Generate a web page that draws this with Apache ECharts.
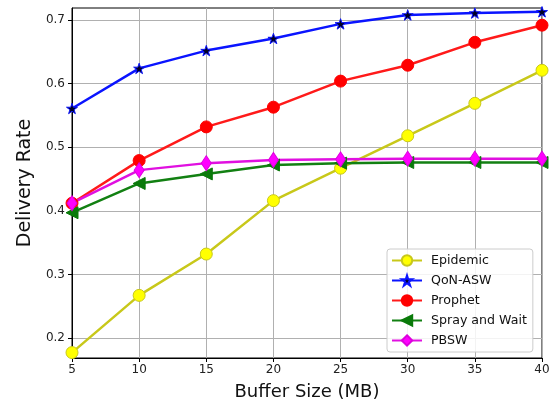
<!DOCTYPE html>
<html>
<head>
<meta charset="utf-8">
<script src="https://cdn.jsdelivr.net/npm/echarts@6/dist/echarts.min.js"></script>
<style>
  html, body { margin: 0; padding: 0; background: #fff; }
  #chart { width: 556px; height: 407px; }
</style>
</head>
<body>
<div id="chart"></div>
<script>
// Buffer sizes (MB) on the x axis
const bufferSizes = [5, 10, 15, 20, 25, 30, 35, 40];
const xTicks = [5, 10, 15, 20, 25, 30, 35, 40];
const yTicks = [0.2, 0.3, 0.4, 0.5, 0.6, 0.7];

// Delivery rate per routing protocol
const epidemic    = [0.177, 0.267, 0.332, 0.416, 0.467, 0.518, 0.569, 0.621];
const qonAsw      = [0.561, 0.624, 0.652, 0.671, 0.694, 0.708, 0.711, 0.713];
const prophet     = [0.412, 0.479, 0.532, 0.563, 0.604, 0.629, 0.665, 0.692];
const sprayWait   = [0.397, 0.443, 0.458, 0.472, 0.475, 0.476, 0.476, 0.476];
const pbsw        = [0.412, 0.464, 0.475, 0.480, 0.481, 0.482, 0.482, 0.482];

const STAR = 'path://M100 0 L122.45 69.1 L195.1 69.1 L136.3 111.8 L158.8 180.9 L100 138.2 L41.2 180.9 L63.7 111.8 L4.9 69.1 L77.55 69.1 Z';
const FONT = 'DejaVu Sans';

function pairs(vals) {
  return bufferSizes.map((x, i) => [x, vals[i]]);
}

function lineSeries(name, vals, lineColor, symbol, size, fill, edge, extra) {
  return Object.assign({
    name: name,
    type: 'line',
    data: pairs(vals),
    symbol: symbol,
    symbolSize: size,
    showAllSymbol: true,
    lineStyle: { color: lineColor, width: 2.5 },
    itemStyle: { color: fill, borderColor: edge, borderWidth: 1 },
    emphasis: { disabled: true },
    animation: false
  }, extra || {});
}

const chart = echarts.init(document.getElementById('chart'), null, { renderer: 'canvas' });

chart.setOption({
  backgroundColor: '#ffffff',
  animation: false,
  grid: {
    left: 72, right: 14, top: 8, bottom: 49,
    show: true, borderColor: '#000', borderWidth: 1, backgroundColor: 'transparent'
  },
  xAxis: {
    type: 'value',
    min: 5, max: 40, interval: 5,
    name: 'Buffer Size (MB)',
    nameLocation: 'middle',
    nameGap: 25,
    nameTextStyle: { fontFamily: FONT, fontSize: 18, color: '#111' },
    axisLine: { show: true, lineStyle: { color: '#000', width: 1 } },
    axisTick: { show: true, length: 4, lineStyle: { color: '#000' } },
    axisLabel: { fontFamily: FONT, fontSize: 12, color: '#222', margin: 6,
      formatter: v => xTicks.includes(v) ? String(v) : '' },
    splitLine: { show: true, lineStyle: { color: '#b0b0b0', width: 1 } }
  },
  yAxis: {
    type: 'value',
    min: 0.1685, max: 0.719,
    interval: 0.1,
    name: 'Delivery Rate',
    nameLocation: 'middle',
    nameGap: 32,
    nameTextStyle: { fontFamily: FONT, fontSize: 19, color: '#111' },
    axisLine: { show: true, lineStyle: { color: '#000', width: 1 } },
    axisTick: { show: true, length: 4, lineStyle: { color: '#000' },
      customValues: yTicks },
    axisLabel: { fontFamily: FONT, fontSize: 12, color: '#222', margin: 7,
      customValues: yTicks, formatter: v => v.toFixed(1) },
    splitLine: { show: true, lineStyle: { color: '#b0b0b0', width: 1 } }
  },
  legend: {
    orient: 'vertical',
    left: 387, top: 249,
    padding: [5, 6, 5, 4],
    itemGap: 7,
    itemWidth: 30,
    itemHeight: 13,
    backgroundColor: 'rgba(255,255,255,0.85)',
    borderColor: '#cccccc',
    borderWidth: 1,
    borderRadius: 3,
    textStyle: { fontFamily: FONT, fontSize: 12.6, color: '#111', padding: [0, 0, 0, 4] },
    data: ['Epidemic', 'QoN-ASW', 'Prophet', 'Spray and Wait', 'PBSW']
  },
  series: [
    lineSeries('Epidemic', epidemic, '#c8c81a', 'circle', 12, '#ffff00', '#c8c81a'),
    lineSeries('QoN-ASW', qonAsw, '#0a14ff', STAR, 11, '#000022', '#0a14ff', { symbolKeepAspect: true }),
    lineSeries('Prophet', prophet, '#ff1a1a', 'circle', 12, '#ff0000', '#ff0000'),
    lineSeries('Spray and Wait', sprayWait, '#128012', 'triangle', 12, '#0a7a0a', '#0a7a0a', { symbolRotate: 90 }),
    lineSeries('PBSW', pbsw, '#e010e0', 'diamond', [10, 15], '#ff00ff', '#dd00dd')
  ]
});
</script>
</body>
</html>
